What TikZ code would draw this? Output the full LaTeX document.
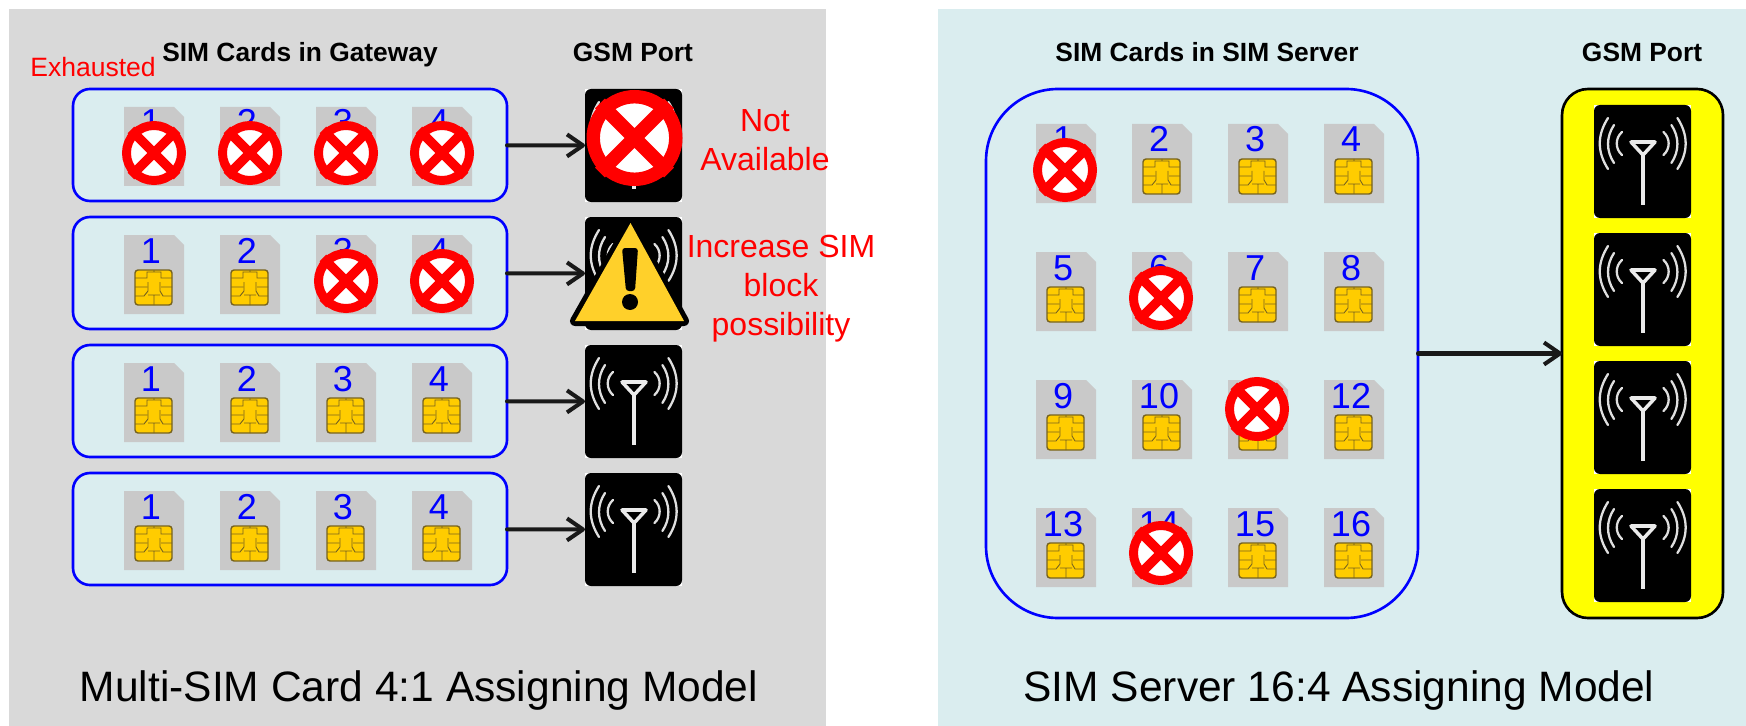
\documentclass[tikz,border=0pt]{standalone}
\usepackage{fontspec}
\setmainfont{Liberation Sans}
\usetikzlibrary{arrows.meta}
\def\px{0.02cm}
\definecolor{panelgray}{HTML}{D9D9D9}
\definecolor{panelteal}{HTML}{DAEDEF}
\definecolor{simgray}{HTML}{C9C9C9}
\definecolor{chipgold}{HTML}{FFCC00}
\definecolor{chipline}{HTML}{77631F}
\definecolor{warnyellow}{HTML}{FFD02A}
\definecolor{boxyellow}{HTML}{FFFF00}
\tikzset{
  gwbox/.style={draw=blue, fill=panelteal, line width=1.5pt, rounded corners=17*\px, minimum width=434*\px, minimum height=112*\px, outer sep=0pt},
  serverbox/.style={draw=blue, fill=panelteal, line width=1.5pt, rounded corners=72*\px, minimum width=432*\px, minimum height=529*\px, outer sep=0pt},
  yellowbox/.style={draw=black, fill=boxyellow, line width=1.5pt, rounded corners=26*\px, minimum width=161*\px, minimum height=529*\px, outer sep=0pt},
  arr/.style={draw=black!90, line width=2.3pt, line cap=round, -{Straight Barb[length=16*\px, width=22*\px, line join=round]}},
  headtext/.style={font=\fontsize{15}{17}\selectfont\bfseries, anchor=base},
  bigtext/.style={font=\fontsize{24.2}{28}\selectfont, anchor=base},
  redtext/.style={font=\fontsize{18.2}{22.2}\selectfont, text=red, align=center},
  simnum/.style={font=\fontsize{20.5}{22}\selectfont, text=blue, anchor=base, inner sep=0pt},
  simcard/.pic={
    \fill[simgray] (0,0) -- (50,0) -- (60,10) -- (60,79) -- (0,79) -- cycle;
    \node[simnum] (num) at (27,28) {#1};
    \filldraw[fill=chipgold, draw=chipline, line width=0.8pt, rounded corners=3*\px] (11,35) rectangle (48,70);
    \draw[chipline, line width=0.5pt] (11,43) -- (23,43) -- (23,37) -- (30,37) -- (30,35)
      (48,43) -- (37,43) -- (37,37) -- (30,37)
      (11,52) -- (23,52) (48,52) -- (37,52)
      (11,61) -- (20,61) -- (24,56) -- (24,47) (48,61) -- (39,61) -- (36,56) -- (36,47)
      (24,60) -- (36,60) (30,60) -- (30,70);
  },
  xmark/.pic={
    \filldraw[fill=white, draw=red, line width=0.28*#1*\px] (0,0) circle ({0.86*#1});
    \draw[red, line width=0.29*#1*\px] (-0.72*#1,-0.72*#1) -- (0.72*#1,0.72*#1) (-0.72*#1,0.72*#1) -- (0.72*#1,-0.72*#1);
  },
  gsmport/.pic={
    \fill[white] (0,0) rectangle (97,113);
    \node[fill=black, rounded corners=6*\px, minimum width=97*\px, minimum height=113*\px, outer sep=0pt, inner sep=0pt, anchor=north west] (box) at (0,0) {};
    \foreach \flip/\shiftx in {1/0, -1/97.4} {
      \begin{scope}[shift={(\shiftx,0)}, xscale=\flip, gray!25, line width=1.3pt, line cap=round]
        \draw (28,27) .. controls (21,33) and (21,44) .. (28,50);
        \draw (20,20) .. controls (12,32) and (12,46) .. (20,58);
        \draw (14,13) .. controls (3,30) and (3,47) .. (14,64);
      \end{scope}
    }
    \draw[white!92!black, line width=2pt, line join=round] (37,37) -- (61,37) -- (49,50) -- cycle;
    \draw[white!92!black, line width=2.6pt] (49,50) -- (49,100);
  }
}
\begin{document}
\begin{tikzpicture}[x=0.02cm, y=-0.02cm]
  \useasboundingbox (0,0) rectangle (1746,726);
  \fill[panelgray] (9,9) rectangle (826,726);
  \fill[panelteal] (938,9) rectangle (1746,726);
  % left panel
  \node[headtext] (gwhead) at (300,62) {SIM Cards in Gateway};
  \node[headtext] (gwport) at (633,62) {GSM Port};
  \foreach \row/\y in {A/89, B/217, C/345, D/473} {
    \node[gwbox, anchor=north west] (gw\row) at (73,\y) {};
    \foreach \n in {1,...,4}
      \pic (card\row\n) at ({124+96*(\n-1)},\y+18) {simcard=\n};
    \pic (port\row) at (585,\y) {gsmport};
    \draw[arr] (gw\row) -- (port\row box);
  }
  \foreach \n in {1,...,4}
    \pic at ({154+96*(\n-1)},153) {xmark=32};
  \pic at (346,281) {xmark=32};
  \pic at (442,281) {xmark=32};
  \pic at (634.5,138) {xmark=48};
  \draw[line width=10*\px, line join=round] (630.5,223) -- (684,321) -- (575,321) -- cycle;
  \fill[warnyellow] (630.5,223) -- (684,321) -- (575,321) -- cycle;
  \fill[black, rounded corners=3*\px] (622,248) -- (638,248) -- (635,291) -- (626,291) -- cycle;
  \fill[black] (630,302) circle (8);
  \node[font=\fontsize{15.1}{17}\selectfont, text=red, anchor=base west, inner sep=0pt] (exhausted) at (30,77) {Exhausted};
  \node[redtext] (notavail) at (765,140) {Not\\Available};
  \node[redtext] (increase) at (781,289) {Increase SIM\\block\\possibility};
  \node[bigtext] (gwtitle) at (419,701) {Multi-SIM Card 4:1 Assigning Model};
  % right panel
  \node[headtext] (srvhead) at (1207,62) {SIM Cards in SIM Server};
  \node[headtext] (srvport) at (1642,62) {GSM Port};
  \node[serverbox, anchor=north west] (server) at (986,89) {};
  \node[yellowbox, anchor=north west] (ports) at (1562,89) {};
  \foreach \n [count=\i from 0] in {1,...,16}
    \pic (srv\n) at ({1036+96*mod(\i,4)},{124+128*int(\i/4)}) {simcard=\n};
  \foreach \y/\name in {105/A, 233/B, 361/C, 489/D}
    \pic (srvport\name) at (1594,\y) {gsmport};
  \pic at (1065,170) {xmark=32};
  \pic at (1161,298) {xmark=32};
  \pic at (1257,409) {xmark=32};
  \pic at (1161,553) {xmark=32};
  \draw[arr] (server) -- (ports);
  \node[bigtext] (srvtitle) at (1339,701) {SIM Server 16:4 Assigning Model};
\end{tikzpicture}
\end{document}
